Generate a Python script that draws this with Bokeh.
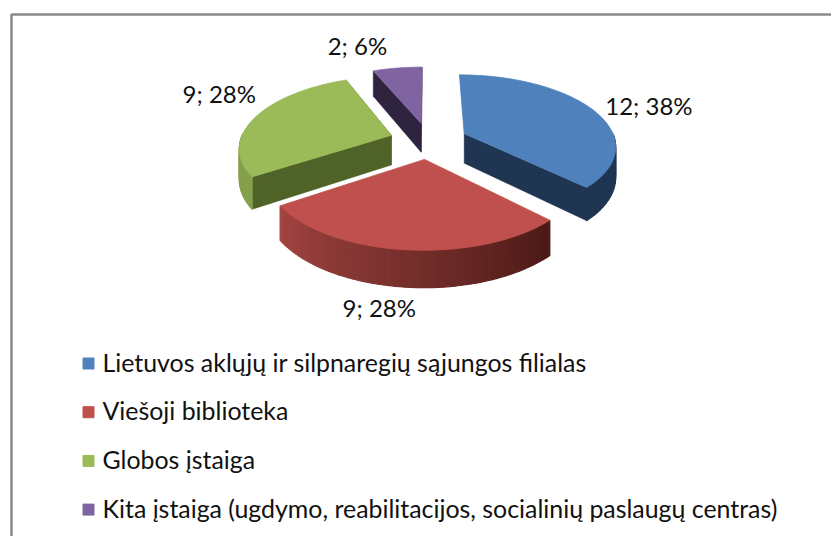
import math
from bokeh.plotting import figure
from bokeh.embed import file_html
from bokeh.resources import INLINE
from bokeh.core.properties import value

categories = ["Lietuvos aklųjų ir silpnaregių sąjungos filialas", "Viešoji biblioteka", "Globos įstaiga",
              "Kita įstaiga (ugdymo, reabilitacijos, socialinių paslaugų centras)"]
values = [12, 9, 9, 2]
percents = ["38%", "28%", "28%", "6%"]
top_colors = ["#4f81bd", "#c0504d", "#9bbb59", "#8064a2"]
wall_colors = ["#1f3552", "#5a1f1d", "#4f6228", "#2f2440"]
outer_colors = ["#1f3552", "#5a1f1d", "#84a04c", "#2f2440"]
label_offsets = [(57, -4), (-26, 58), (-37, -23), (-40, -23)]

FONT = "Lato"
CX, CY, A, B, K, E, D = 428, 140, 151, 70, 0.157, 0.26, 30


def project(u, v, depth=0.0):
    f = 1 / (1 + K * v)
    return CX + A * u * f, CY - B * v * f + depth * f


p = figure(width=831, height=536, x_range=(0, 831), y_range=(536, 0), output_backend="svg",
           toolbar_location=None, min_border=0, outline_line_color=None, background_fill_color="white",
           border_fill_color="white")
p.axis.visible = False
p.grid.visible = False

# frame
p.line([831, 11, 11], [14, 14, 536], line_color="#8a8a8a", line_width=2.5)

total = sum(values)
slices = []
start = 90.0
for i, val in enumerate(values):
    sweep = 360.0 * val / total
    slices.append((i, start, start - sweep))
    start -= sweep

draw_order = [3, 0, 2, 1]
for i in draw_order:
    _, a0, a1 = slices[i]
    mid = math.radians((a0 + a1) / 2)
    eu, ev = E * math.cos(mid), E * math.sin(mid)
    n = 60
    angles = [math.radians(a0 + (a1 - a0) * j / n) for j in range(n + 1)]
    rim = [(eu + math.cos(t), ev + math.sin(t)) for t in angles]

    # straight inner walls
    for k, (pu, pv) in enumerate((rim[0], rim[-1])):
        if i == 1 or (i == 0 and k == 0):
            continue
        x0, y0 = project(eu, ev)
        x1, y1 = project(pu, pv)
        x2, y2 = project(pu, pv, D)
        x3, y3 = project(eu, ev, D)
        p.patch([x0, x1, x2, x3], [y0, y1, y2, y3], fill_color=wall_colors[i],
                line_color=wall_colors[i], line_width=0.5)

    # outer curved wall
    for j in range(n):
        u0, v0 = rim[j]
        u1, v1 = rim[j + 1]
        x0, y0 = project(u0, v0)
        x1, y1 = project(u1, v1)
        x2, y2 = project(u1, v1, D)
        x3, y3 = project(u0, v0, D)
        if math.sin(angles[j]) > 0.0:
            continue
        if i == 1:
            t = 1 - j / (n - 1)
            c0, c1 = (0xa2, 0x45, 0x41), (0x4c, 0x1a, 0x18)
            col = "#%02x%02x%02x" % tuple(int(c0[c] + (c1[c] - c0[c]) * t) for c in range(3))
        else:
            col = outer_colors[i]
        p.patch([x0, x1, x2, x3], [y0, y1, y2, y3], fill_color=col, line_color=col, line_width=1.2)

    # top face
    pts = [project(eu, ev)] + [project(u, v) for u, v in rim]
    p.patch([q[0] for q in pts], [q[1] for q in pts], fill_color=top_colors[i],
            line_color=top_colors[i], line_width=0.8)

# data labels
for i, a0, a1 in slices:
    mid = math.radians((a0 + a1) / 2)
    eu, ev = E * math.cos(mid), E * math.sin(mid)
    x, y = project(eu + math.cos(mid), ev + math.sin(mid))
    dx, dy = label_offsets[i]
    p.text([x + dx], [y + dy], text=[f"{values[i]}; {percents[i]}"], text_font=value(FONT),
           text_font_size="24px", text_color="#111111", text_align="center", text_baseline="middle")

# legend
LEG_Y0, LEG_STEP = 363, 48.7
for i, name in enumerate(categories):
    y = LEG_Y0 + LEG_STEP * i
    p.scatter([88], [y], marker="square", size=11, fill_color=top_colors[i], line_color=top_colors[i])
    p.text([102], [y - 2], text=[name], text_font=value(FONT), text_font_size="24.9px",
           text_color="#111111", text_align="left", text_baseline="middle")

open("out.html", "w").write(file_html(p, INLINE))
